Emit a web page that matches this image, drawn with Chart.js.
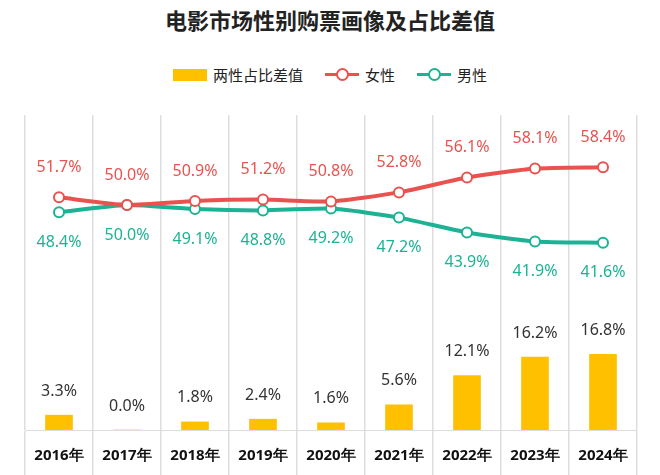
<!DOCTYPE html>
<html>
<head>
<meta charset="utf-8">
<script src="https://cdn.jsdelivr.net/npm/chart.js@4"></script>
<style>
    body { margin: 0; background: #fff; font-family: "Noto Sans", "Noto Sans CJK SC", sans-serif; }
    #wrap { position: relative; width: 660px; height: 475px; }
    #title { position: absolute; top: 3px; left: 0; width: 660px; text-align: center; font-size: 22px; font-weight: bold; color: #222; font-family: "Noto Sans CJK SC", sans-serif; }
    #legend { position: absolute; top: 64px; left: 0; width: 660px; display: flex; justify-content: center; gap: 22px; font-size: 15px; color: #222; font-family: "Noto Sans CJK SC", sans-serif; }
    .item { display: flex; align-items: center; gap: 6px; }
    .box { width: 34px; height: 12px; background: #FFC000; }
    .ln { position: relative; width: 34px; height: 3px; }
    .ln i { position: absolute; left: 11px; top: -5px; width: 9px; height: 9px; border-radius: 50%; background: #fff; border: 2px solid; box-sizing: content-box; }
    canvas { position: absolute; top: 0; left: 0; }
</style>
</head>
<body>
<div id="wrap">
    <div id="title">电影市场性别购票画像及占比差值</div>
    <div id="legend">
        <div class="item"><span class="box"></span>两性占比差值</div>
        <div class="item"><span class="ln" style="background:#E8534F"><i style="border-color:#E8534F"></i></span>女性</div>
        <div class="item"><span class="ln" style="background:#1CB394"><i style="border-color:#1CB394"></i></span>男性</div>
    </div>
    <canvas id="chart" width="660" height="475"></canvas>
</div>
<script>
const RED = "#E8534F";
const GREEN = "#1CB394";
const YELLOW = "#FFC000";

const years = ["2016年", "2017年", "2018年", "2019年", "2020年", "2021年", "2022年", "2023年", "2024年"];
const female = [51.7, 50.0, 50.9, 51.2, 50.8, 52.8, 56.1, 58.1, 58.4];
const male = [48.4, 50.0, 49.1, 48.8, 49.2, 47.2, 43.9, 41.9, 41.6];
const gap = [3.3, 0.0, 1.8, 2.4, 1.6, 5.6, 12.1, 16.2, 16.8];

const valueLabels = {
    id: "valueLabels",
    afterDatasetsDraw(chart) {
        const ctx = chart.ctx;
        ctx.save();
        ctx.font = "16px 'Noto Sans'";
        ctx.textAlign = "center";
        ctx.textBaseline = "middle";
        chart.data.datasets.forEach((ds, i) => {
            const meta = chart.getDatasetMeta(i);
            const shift = ds.labelShift;
            ctx.fillStyle = ds.labelColor;
            meta.data.forEach((el, j) => {
                ctx.fillText(ds.data[j].toFixed(1) + "%", el.x, el.y + shift);
            });
        });
        ctx.restore();
    },
};

new Chart(document.getElementById("chart"), {
    data: {
        labels: years,
        datasets: [
            {
                type: "line", label: "女性", data: female,
                borderColor: RED, borderWidth: 4, pointRadius: 5,
                pointBackgroundColor: "#fff", pointBorderColor: RED, pointBorderWidth: 2,
                tension: 0.2, labelColor: RED, labelShift: -30,
            },
            {
                type: "line", label: "男性", data: male,
                borderColor: GREEN, borderWidth: 4, pointRadius: 5,
                pointBackgroundColor: "#fff", pointBorderColor: GREEN, pointBorderWidth: 2,
                tension: 0.2, labelColor: GREEN, labelShift: 30,
            },
            {
                type: "bar", label: "两性占比差值", data: gap,
                backgroundColor: YELLOW, barThickness: 27,
                labelColor: "#333", labelShift: -24,
            },
        ],
    },
    plugins: [valueLabels],
    options: {
        responsive: false,
        animation: false,
        layout: { padding: { top: 115, left: 25, right: 23, bottom: 0 } },
        plugins: { legend: { display: false }, tooltip: { enabled: false } },
        scales: {
            x: {
                offset: true,
                grid: { offset: true, color: "#dddddd", tickLength: 45, lineWidth: 1.5 },
                border: { color: "#dddddd" },
                ticks: { color: "#111", font: { size: 15, weight: "bold", family: "'Noto Sans'" }, padding: -28 },
                afterFit: (scale) => { scale.height = 45; },
            },
            y: { display: false, min: 0, max: 70 },
        },
    },
});
</script>
</body>
</html>
